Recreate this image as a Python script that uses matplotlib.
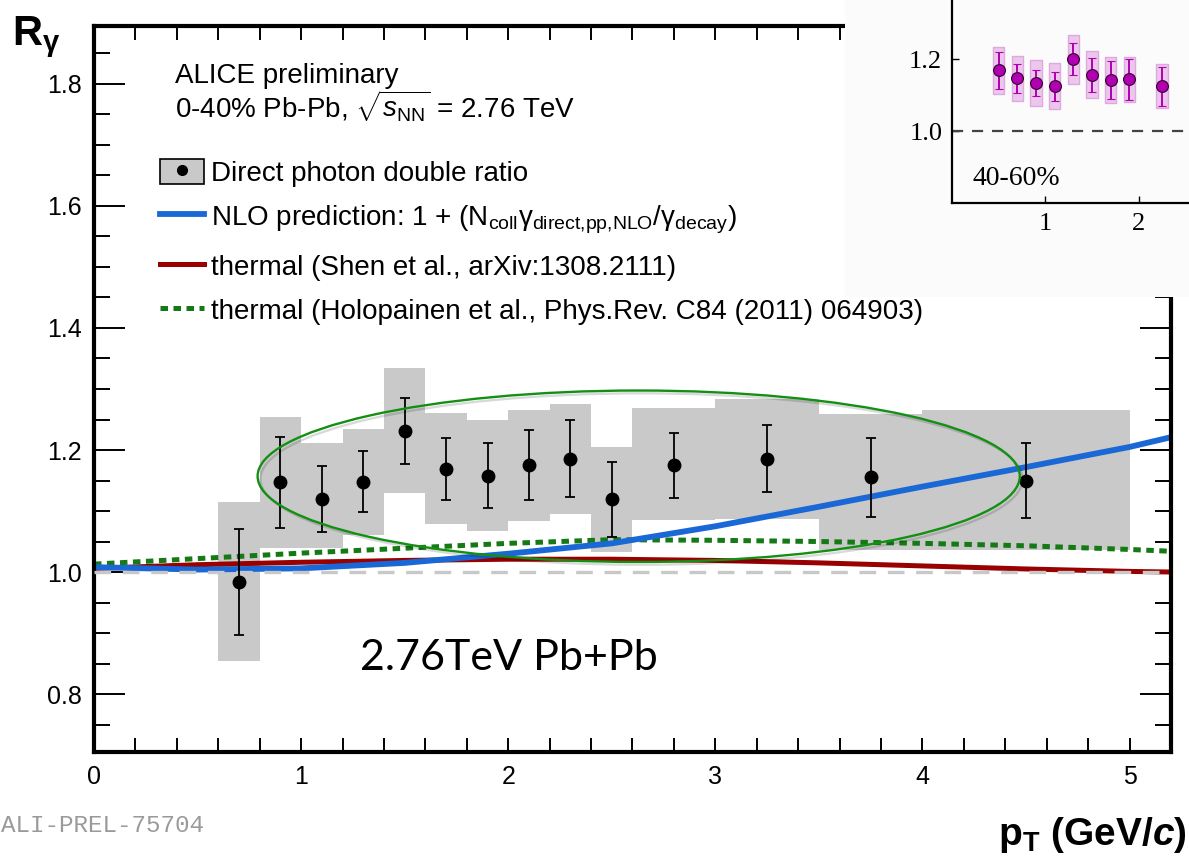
import matplotlib
matplotlib.use("Agg")
import matplotlib.pyplot as plt
import matplotlib.patheffects as pe
from matplotlib.patches import Ellipse, Patch
from matplotlib.lines import Line2D
from matplotlib.ticker import MultipleLocator, FormatStrFormatter

plt.rcParams.update({
    "font.family": "Liberation Sans",
    "mathtext.fontset": "custom",
    "mathtext.rm": "Liberation Sans",
    "mathtext.it": "Liberation Sans:italic",
    "mathtext.bf": "Liberation Sans:bold",
    "mathtext.bfit": "Liberation Sans:bold:italic",
})

# ---- direct photon double ratio, 0-40% Pb-Pb ----
PT = [0.7, 0.9, 1.1, 1.3, 1.5, 1.7, 1.9, 2.1, 2.3, 2.5, 2.8, 3.25, 3.75, 4.5]
RATIO = [0.984, 1.147, 1.119, 1.148, 1.231, 1.169, 1.158, 1.175, 1.186, 1.119, 1.175, 1.186, 1.155, 1.150]
STAT = [0.087, 0.075, 0.054, 0.050, 0.054, 0.051, 0.053, 0.057, 0.063, 0.062, 0.053, 0.055, 0.065, 0.061]
# systematic boxes (bin edges and box top / bottom)
SYS_LO = [0.6, 0.8, 1.0, 1.2, 1.4, 1.6, 1.8, 2.0, 2.2, 2.4, 2.6, 3.0, 3.5, 4.0]
SYS_HI = [0.8, 1.0, 1.2, 1.4, 1.6, 1.8, 2.0, 2.2, 2.4, 2.6, 3.0, 3.5, 4.0, 5.0]
SYS_TOP = [1.115, 1.254, 1.212, 1.234, 1.335, 1.261, 1.250, 1.265, 1.275, 1.205, 1.269, 1.283, 1.259, 1.265]
SYS_BOT = [0.854, 1.039, 1.040, 1.061, 1.129, 1.078, 1.068, 1.084, 1.095, 1.033, 1.086, 1.087, 1.036, 1.036]

# ---- model curves ----
CURVE_PT = [0.0, 0.5, 1.0, 1.5, 2.0, 2.5, 3.0, 3.5, 4.0, 4.5, 5.0, 5.2]
NLO = [1.008, 1.004, 1.006, 1.015, 1.030, 1.047, 1.075, 1.107, 1.140, 1.172, 1.205, 1.221]
SHEN = [1.006, 1.012, 1.016, 1.019, 1.021, 1.021, 1.019, 1.015, 1.010, 1.005, 1.001, 1.000]
HOLO = [1.013, 1.022, 1.031, 1.039, 1.047, 1.053, 1.052, 1.050, 1.047, 1.043, 1.037, 1.034]

# ---- pasted inset: 40-60% ----
IN_PT = [0.5, 0.7, 0.9, 1.1, 1.3, 1.5, 1.7, 1.9, 2.25]
IN_RATIO = [1.169, 1.146, 1.133, 1.124, 1.200, 1.156, 1.142, 1.144, 1.124]
IN_STAT = [0.051, 0.039, 0.037, 0.040, 0.045, 0.047, 0.053, 0.057, 0.054]
IN_SYS = [0.065, 0.062, 0.063, 0.064, 0.068, 0.065, 0.065, 0.062, 0.061]

BLUE = "#1a68d6"
RED = "#990000"
GREEN = "#157a15"
GRAY = "#c9c9c9"
MAG = "#b000b0"

W, H = 1189, 859


def px_box(l, t, r, b):
    return [l / W, 1 - b / H, (r - l) / W, (b - t) / H]


fig = plt.figure(figsize=(W / 100, H / 100), dpi=100)
ax = fig.add_axes(px_box(94, 26, 1171, 752))

ax.bar(SYS_LO, [t - b for t, b in zip(SYS_TOP, SYS_BOT)],
       width=[h - l for h, l in zip(SYS_HI, SYS_LO)], bottom=SYS_BOT,
       align="edge", color=GRAY, linewidth=0, zorder=1)

ax.plot(CURVE_PT, SHEN, color=RED, lw=3.6, zorder=2)
ax.plot(CURVE_PT, HOLO, color=GREEN, lw=3.6, linestyle=(0, (1.5, 1.1)), zorder=2.2)
ax.plot(CURVE_PT, NLO, color=BLUE, lw=4.2, zorder=2.4)
ax.axhline(1.0, color="#c8c8c8", lw=2.4, dashes=(5, 3.5), zorder=3)

ax.errorbar(PT, RATIO, yerr=STAT, fmt="o", color="black", ms=9, elinewidth=1.3,
            capsize=3.5, capthick=1.3, zorder=5)

ell = Ellipse((2.63, 1.157), 3.68, 0.281, fill=False, ec="#139013", lw=1.7, zorder=6)
ell.set_path_effects([pe.SimpleLineShadow(offset=(2, -2), shadow_color="k", alpha=0.15),
                      pe.Normal()])
ax.add_patch(ell)

ax.set_xlim(0, 5.2)
ax.set_ylim(0.705, 1.895)
ax.xaxis.set_major_locator(MultipleLocator(1))
ax.xaxis.set_minor_locator(MultipleLocator(0.2))
ax.yaxis.set_major_locator(MultipleLocator(0.2))
ax.yaxis.set_minor_locator(MultipleLocator(0.05))
ax.yaxis.set_major_formatter(FormatStrFormatter("%.1f"))
ax.tick_params(which="both", direction="in", top=True, right=True, width=1.4, labelsize=18)
ax.tick_params(axis="y", which="major", length=22, pad=9)
ax.tick_params(axis="y", which="minor", length=11.5)
ax.tick_params(axis="x", which="both", length=10, pad=9)
for s in ax.spines.values():
    s.set_linewidth(3)

handles = [
    (Patch(facecolor=GRAY, edgecolor="black", lw=1.2),
     Line2D([], [], ls="", marker="o", color="black", ms=7)),
    Line2D([], [], color=BLUE, lw=4.2),
    Line2D([], [], color=RED, lw=3.6),
    Line2D([], [], color=GREEN, lw=3.6, linestyle=(0, (1.5, 1.1))),
]
labels = [
    "Direct photon double ratio",
    r"NLO prediction: 1 + (N$_{\rm coll}$γ$_{\rm direct{,}pp{,}NLO}$/γ$_{\rm decay}$)",
    "thermal (Shen et al., arXiv:1308.2111)",
    "thermal (Holopainen et al., Phys.Rev. C84 (2011) 064903)",
]
ax.legend(handles, labels, loc="upper left", bbox_to_anchor=(0.0613, 0.817),
          frameon=False, fontsize=20, borderpad=0, borderaxespad=0,
          handlelength=1.6, handleheight=1.0, handletextpad=0.25, labelspacing=0.6)

fig.text(175 / W, 1 - 83 / H, "ALICE preliminary", fontsize=20, va="baseline")
fig.text(175 / W, 1 - 118 / H, r"0-40% Pb-Pb, $\sqrt{s_{\rm NN}}$ = 2.76 TeV",
         fontsize=20, va="baseline")
fig.text(360 / W, 1 - 670 / H, "2.76TeV Pb+Pb", family="Lato", fontsize=31, va="baseline")
fig.text(12 / W, 1 - 45 / H, r"$\mathbf{R}_{\mathbf{\gamma}}$", fontsize=30, va="baseline")
fig.text(1187 / W, 1 - 845 / H, r"$\mathbf{p}_{\mathbf{T}}\ \mathbf{(GeV/}\mathbfit{c}\mathbf{)}$",
         fontsize=28, ha="right", va="baseline")
fig.text(1 / W, 1 - 832 / H, "ALI-PREL-75704", family="Liberation Mono", fontsize=17.5,
         color="#9a9a9a", va="baseline")

# background of the pasted inset panel
bg = fig.add_axes(px_box(845, 0, 1189, 297))
bg.set_facecolor("#fbfbfb")
bg.set_xticks([])
bg.set_yticks([])
for s in bg.spines.values():
    s.set_visible(False)
bg.set_zorder(2)

ins = fig.add_axes(px_box(952, 0, 1189, 203))
ins.set_zorder(3)
ins.patch.set_alpha(0)
ins.bar(IN_PT, [2 * s for s in IN_SYS], bottom=[r - s for r, s in zip(IN_RATIO, IN_SYS)],
        width=0.12, color="#ecc6ec", edgecolor="#dcaadc", lw=1, zorder=1)
ins.axhline(1.0, color="#444444", lw=1.6, dashes=(5, 4), zorder=2)
ins.errorbar(IN_PT, IN_RATIO, yerr=IN_STAT, fmt="o", color=MAG, mfc=MAG, mec="#300030",
             mew=0.8, ms=8.5, elinewidth=1.4, capsize=3, capthick=1.2, zorder=3)
ins.set_xlim(0, 2.54)
ins.set_ylim(0.8, 1.364)
ins.set_xticks([1, 2])
ins.set_yticks([1.0, 1.2])
ins.yaxis.set_major_formatter(FormatStrFormatter("%.1f"))
ins.tick_params(direction="in", length=5, width=1, labelsize=19, pad=7)
for lab in ins.get_xticklabels() + ins.get_yticklabels():
    lab.set_family("Liberation Serif")
ins.spines["top"].set_visible(False)
ins.spines["right"].set_visible(False)
ins.spines["left"].set_linewidth(1.6)
ins.spines["bottom"].set_linewidth(1.6)
ins.text(0.22, 0.85, "40-60%", family="Liberation Serif", fontsize=20, va="baseline")

fig.savefig("out.png", dpi=100)
